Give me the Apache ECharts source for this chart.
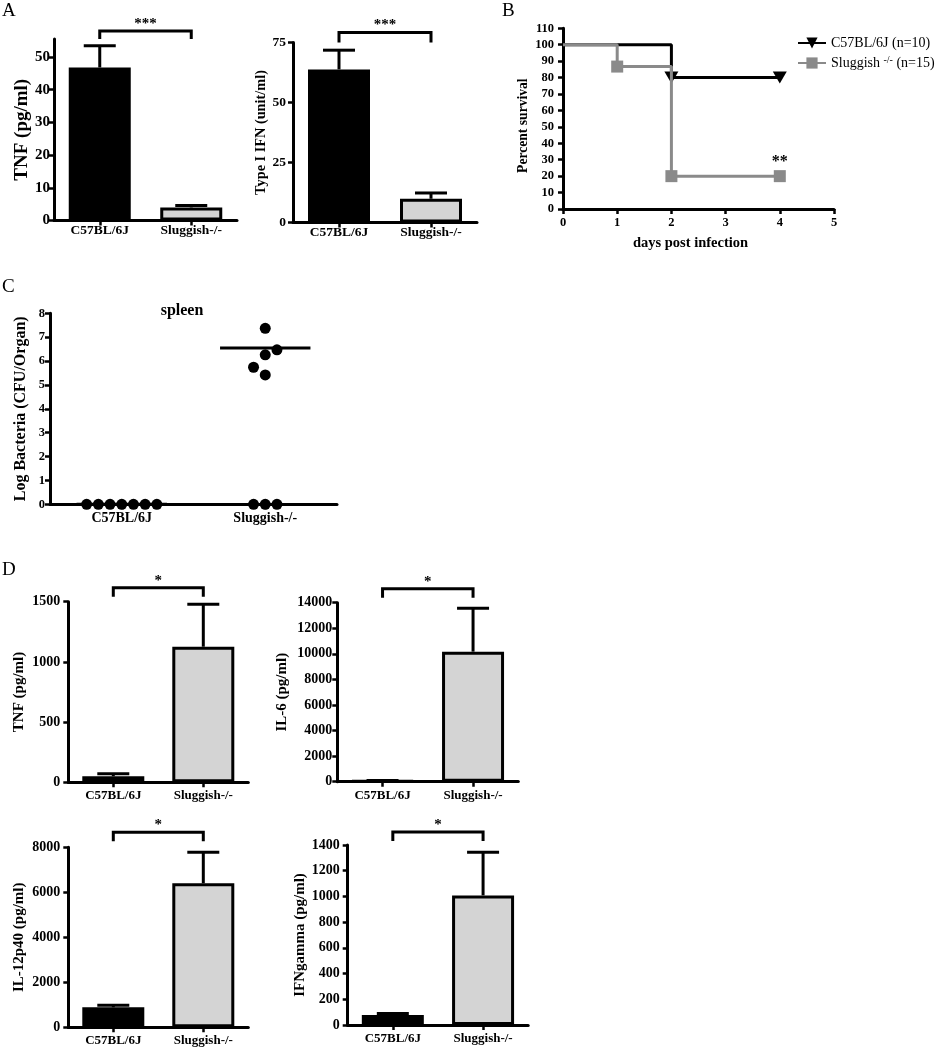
<!DOCTYPE html>
<html lang="en">
<head>
<meta charset="UTF-8">
<title>Sluggish-/- figure</title>
<script src="https://cdn.jsdelivr.net/npm/echarts@6/dist/echarts.min.js"></script>
<style>body{margin:0;background:#fff}</style>
</head>
<body>
<div id="fig" style="width:939px;height:1050px"></div>
<script>
var FONT = '"Liberation Serif", "Times New Roman", serif';
var groups = ['C57BL/6J', 'Sluggish-/-'];

// A - serum cytokines
var tnfA = [46.8, 4.0];
var tnfAErr = [6.6, 0.6];
var ifnA = [63.8, 9.9];
var ifnAErr = [8.0, 2.4];
var tnfATicks = [0, 10, 20, 30, 40, 50];
var ifnATicks = [0, 25, 50, 75];

// B - survival
var c57Days = [0, 2, 4];
var c57Survival = [100, 80, 80];
var slugDays = [0, 1, 2, 4];
var slugSurvival = [100, 86.7, 20, 20];

// C - spleen bacteria (log CFU)
var spleenC57 = [0, 0, 0, 0, 0, 0, 0];
var spleenSlug = [7.37, 6.47, 6.26, 5.74, 5.42, 0, 0, 0];
var spleenLine = [0, 6.55];

// D - cytokines
var tnfD = [50, 1126];
var tnfDErr = [20, 352];
var il6D = [60, 10170];
var il6DErr = [25, 3390];
var il12D = [890, 6400];
var il12DErr = [90, 1378];
var ifngD = [78, 1008];
var ifngDErr = [12, 335];
var tnfDTicks = [0, 500, 1000, 1500];
var il6DTicks = [0, 2000, 4000, 6000, 8000, 10000, 12000, 14000];
var il12DTicks = [0, 2000, 4000, 6000, 8000];
var ifngDTicks = [0, 200, 400, 600, 800, 1000, 1200, 1400];

var grids = [
    {left: 54, top: 39, width: 183, height: 181.5},      // A TNF
    {left: 293, top: 42.5, width: 184, height: 180},     // A IFN
    {left: 563, top: 28.3, width: 271, height: 180.7},   // B
    {left: 50, top: 313.3, width: 287, height: 191},     // C
    {left: 68.3, top: 601.7, width: 180, height: 180.6}, // D TNF
    {left: 337.3, top: 602.7, width: 181, height: 179},  // D IL-6
    {left: 68.3, top: 847.3, width: 180, height: 180},   // D IL-12
    {left: 347.7, top: 845, width: 180.5, height: 180}   // D IFNg
];

var axisLine = {show: true, lineStyle: {color: '#000', width: 3}};
var axisTick = {show: true, length: 5, lineStyle: {color: '#000', width: 2.5}};
var plain = function (v) { return String(v); };

function txt(size, weight) {
    return {fontFamily: FONT, fontSize: size, fontWeight: weight || 'bold', color: '#000'};
}

var xAxes = [], yAxes = [], series = [];

var barPanels = [
    {g: 0, means: tnfA, errs: tnfAErr, max: 55.5, ticks: tnfATicks, name: 'TNF (pg/ml)', nameSize: 19, nameGap: 22,
        tickSize: 15, tickMargin: 4, catSize: 13.5, catMargin: 3, stars: '***', lift: 8, legs: 8},
    {g: 1, means: ifnA, errs: ifnAErr, max: 75, ticks: ifnATicks, name: 'Type I IFN (unit/ml)', nameSize: 14.3, nameGap: 24,
        tickSize: 13.5, tickMargin: 7, catSize: 13.5, catMargin: 3, stars: '***', lift: 10, legs: 10},
    {g: 4, means: tnfD, errs: tnfDErr, max: 1500, ticks: tnfDTicks, name: 'TNF (pg/ml)', nameSize: 15, nameGap: 42,
        tickSize: 14, tickMargin: 8, catSize: 13, catMargin: 7, stars: '*', lift: 14, legs: 9},
    {g: 5, means: il6D, errs: il6DErr, max: 14000, ticks: il6DTicks, name: 'IL-6 (pg/ml)', nameSize: 15, nameGap: 48,
        tickSize: 14, tickMargin: 5, catSize: 13, catMargin: 7, stars: '*', lift: 14, legs: 9},
    {g: 6, means: il12D, errs: il12DErr, max: 8000, ticks: il12DTicks, name: 'IL-12p40 (pg/ml)', nameSize: 15, nameGap: 42,
        tickSize: 14, tickMargin: 8, catSize: 13, catMargin: 7, stars: '*', lift: 15, legs: 9},
    {g: 7, means: ifngD, errs: ifngDErr, max: 1400, ticks: ifngDTicks, name: 'IFNgamma (pg/ml)', nameSize: 15, nameGap: 40,
        tickSize: 14, tickMargin: 8, catSize: 13, catMargin: 7, stars: '*', lift: 13, legs: 9}
];

var axisIdx = 0;

barPanels.forEach(function (p) {
    var idx = axisIdx++;
    xAxes.push({
        type: 'category', gridIndex: p.g, data: groups,
        axisLine: axisLine,
        axisTick: {show: true, alignWithLabel: true, length: 5, lineStyle: {color: '#000', width: 2.5}},
        axisLabel: Object.assign(txt(p.catSize), {margin: p.catMargin, interval: 0}),
        splitLine: {show: false}
    });
    yAxes.push({
        type: 'value', gridIndex: p.g, min: 0, max: p.max,
        axisLine: axisLine,
        axisTick: {show: true, length: 5, lineStyle: {color: '#000', width: 2.5}, customValues: p.ticks},
        axisLabel: Object.assign(txt(p.tickSize), {margin: p.tickMargin, customValues: p.ticks, formatter: plain}),
        splitLine: {show: false},
        name: p.name, nameLocation: 'middle', nameRotate: 90, nameGap: p.nameGap,
        nameTextStyle: txt(p.nameSize)
    });
    series.push({
        type: 'bar', xAxisIndex: idx, yAxisIndex: idx, barWidth: 62, z: 2,
        data: p.means.map(function (m, i) {
            return {
                value: m,
                itemStyle: i === 0
                    ? {color: '#000', borderColor: '#000', borderWidth: 3}
                    : {color: '#d4d4d4', borderColor: '#000', borderWidth: 3}
            };
        })
    });
    series.push({
        type: 'custom', xAxisIndex: idx, yAxisIndex: idx, z: 4, silent: true,
        data: p.means.map(function (m, i) { return [i, m, m + p.errs[i]]; }),
        renderItem: function (params, api) {
            var base = api.coord([api.value(0), api.value(1)]);
            var top = api.coord([api.value(0), api.value(2)]);
            return {
                type: 'group', children: [
                    {type: 'line', shape: {x1: base[0], y1: base[1], x2: top[0], y2: top[1]},
                        style: {stroke: '#000', lineWidth: 3}},
                    {type: 'line', shape: {x1: top[0] - 16, y1: top[1], x2: top[0] + 16, y2: top[1]},
                        style: {stroke: '#000', lineWidth: 3}}
                ]
            };
        }
    });
    // significance bracket above the axis
    series.push({
        type: 'custom', xAxisIndex: idx, yAxisIndex: idx, z: 4, silent: true,
        data: [[0, p.max]],
        renderItem: function (params, api) {
            var a = api.coord([0, p.max]);
            var b = api.coord([1, p.max]);
            var y = a[1] - p.lift;
            return {
                type: 'group', children: [
                    {type: 'polyline', shape: {points: [[a[0], y + p.legs], [a[0], y], [b[0], y], [b[0], y + p.legs]]},
                        style: {stroke: '#000', lineWidth: 3, fill: null}},
                    {type: 'text', style: {text: p.stars, x: (a[0] + b[0]) / 2, y: y - 7,
                        align: 'center', verticalAlign: 'middle', fill: '#000',
                        fontFamily: FONT, fontSize: 15, fontWeight: 'bold'}}
                ]
            };
        }
    });
});

// B - survival curves
var bIdx = axisIdx++;
xAxes.push({
    type: 'value', gridIndex: 2, min: 0, max: 5, interval: 1,
    axisLine: axisLine, axisTick: axisTick,
    axisLabel: Object.assign(txt(12.5), {margin: 7}),
    splitLine: {show: false},
    name: 'days post infection', nameLocation: 'middle', nameGap: 27,
    nameTextStyle: Object.assign(txt(14.5), {padding: [0, 16, 0, 0]})
});
yAxes.push({
    type: 'value', gridIndex: 2, min: 0, max: 110, interval: 10,
    axisLine: axisLine, axisTick: axisTick,
    axisLabel: Object.assign(txt(12.5), {margin: 9}),
    splitLine: {show: false},
    name: 'Percent survival', nameLocation: 'middle', nameRotate: 90, nameGap: 33,
    nameTextStyle: Object.assign(txt(13.6), {padding: [0, 14, 0, 0]})
});
series.push({
    name: 'C57BL/6J (n=10)', type: 'line', xAxisIndex: bIdx, yAxisIndex: bIdx, step: 'end', z: 3,
    symbol: 'triangle', symbolRotate: 180, symbolSize: [14, 12], showAllSymbol: true,
    lineStyle: {color: '#000', width: 3}, itemStyle: {color: '#000'},
    data: c57Days.map(function (d, i) {
        return i === 0 ? {value: [d, c57Survival[i]], symbol: 'none'} : {value: [d, c57Survival[i]]};
    })
});
series.push({
    name: 'Sluggish -/- (n=15)', type: 'line', xAxisIndex: bIdx, yAxisIndex: bIdx, step: 'end', z: 4,
    symbol: 'rect', symbolSize: 12, showAllSymbol: true,
    lineStyle: {color: '#8a8a8a', width: 3}, itemStyle: {color: '#8a8a8a'},
    data: slugDays.map(function (d, i) {
        var item = {value: [d, slugSurvival[i]]};
        if (i === 0) item.symbol = 'none';
        if (i === slugDays.length - 1) {
            item.label = Object.assign(txt(16), {show: true, formatter: '**', position: 'top', distance: 0});
        }
        return item;
    })
});

// C - spleen dot plot
var cIdx = axisIdx++;
var cXMin = 0.5, cXMax = 2.5, cYMax = 8;
xAxes.push({
    type: 'value', gridIndex: 3, min: cXMin, max: cXMax,
    axisLine: axisLine,
    axisTick: {show: true, length: 5, lineStyle: {color: '#000', width: 2.5}, customValues: [1, 2]},
    axisLabel: Object.assign(txt(14), {margin: 7, customValues: [1, 2],
        formatter: function (v) { return groups[Math.round(v) - 1]; }}),
    splitLine: {show: false}
});
yAxes.push({
    type: 'value', gridIndex: 3, min: 0, max: cYMax, interval: 1,
    axisLine: axisLine, axisTick: axisTick,
    axisLabel: Object.assign(txt(12.5), {margin: 5}),
    splitLine: {show: false},
    name: 'Log Bacteria (CFU/Organ)', nameLocation: 'middle', nameRotate: 90, nameGap: 21,
    nameTextStyle: txt(16)
});

// simple beeswarm so that equal values sit side by side
function swarm(values, center) {
    var dot = 11, slotPx = 11.7;
    var xPx = grids[3].width / (cXMax - cXMin);
    var yPx = grids[3].height / cYMax;
    var placed = [];
    var order = values.map(function (v, i) { return i; })
        .sort(function (a, b) { return values[a] - values[b]; });
    var out = [];
    order.forEach(function (i) {
        var v = values[i];
        var nL = placed.filter(function (q) { return q.s < 0; }).length;
        var nR = placed.filter(function (q) { return q.s > 0; }).length;
        var cands = [0];
        for (var k = 1; k < 8; k++) {
            if (nL <= nR) cands.push(-k, k); else cands.push(k, -k);
        }
        var slot = cands.find(function (s) {
            return placed.every(function (q) {
                var dx = (s - q.s) * slotPx, dy = (v - q.v) * yPx;
                return dx * dx + dy * dy >= dot * dot;
            });
        });
        placed.push({s: slot, v: v});
        out.push([center + slot * slotPx / xPx, v]);
    });
    return out;
}

[spleenC57, spleenSlug].forEach(function (vals, gi) {
    series.push({
        type: 'scatter', xAxisIndex: cIdx, yAxisIndex: cIdx, symbol: 'circle', symbolSize: 11, z: 4,
        itemStyle: {color: '#000', opacity: 1},
        data: swarm(vals, gi + 1)
    });
});
series.push({
    type: 'custom', xAxisIndex: cIdx, yAxisIndex: cIdx, z: 3, silent: true,
    data: spleenLine.map(function (v, i) { return [i + 1, v]; }),
    renderItem: function (params, api) {
        var l = api.coord([api.value(0) - 0.315, api.value(1)]);
        var r = api.coord([api.value(0) + 0.315, api.value(1)]);
        return {type: 'line', shape: {x1: l[0], y1: l[1], x2: r[0], y2: r[1]},
            style: {stroke: '#000', lineWidth: 3}};
    }
});

var letter = function (t, x, y) {
    return {text: t, left: x, top: y, padding: 0,
        textStyle: {fontFamily: FONT, fontSize: 19, fontWeight: 'normal', color: '#000'}};
};

var option = {
    animation: false,
    backgroundColor: '#fff',
    title: [
        letter('A', 2, 2),
        letter('B', 502, 2),
        letter('C', 2, 278),
        letter('D', 2, 561),
        {text: 'spleen', left: 182, top: 303, textAlign: 'center', padding: 0, textStyle: txt(16)}
    ],
    legend: {
        data: [
            {name: 'C57BL/6J (n=10)'},
            {name: 'Sluggish -/- (n=15)'}
        ],
        orient: 'vertical', left: 797, top: 36, itemWidth: 28, itemHeight: 14, itemGap: 5,
        padding: 0, selectedMode: false,
        formatter: function (n) {
            return n.indexOf('Sluggish') === 0 ? 'Sluggish {sup|-/-} (n=15)' : n;
        },
        textStyle: {fontFamily: FONT, fontSize: 14, color: '#000',
            rich: {sup: {fontFamily: FONT, fontSize: 10, color: '#000', padding: [0, 0, 6, 0]}}}
    },
    grid: grids,
    xAxis: xAxes,
    yAxis: yAxes,
    series: series
};

var chart = echarts.init(document.getElementById('fig'));
chart.setOption(option);
</script>
</body>
</html>
